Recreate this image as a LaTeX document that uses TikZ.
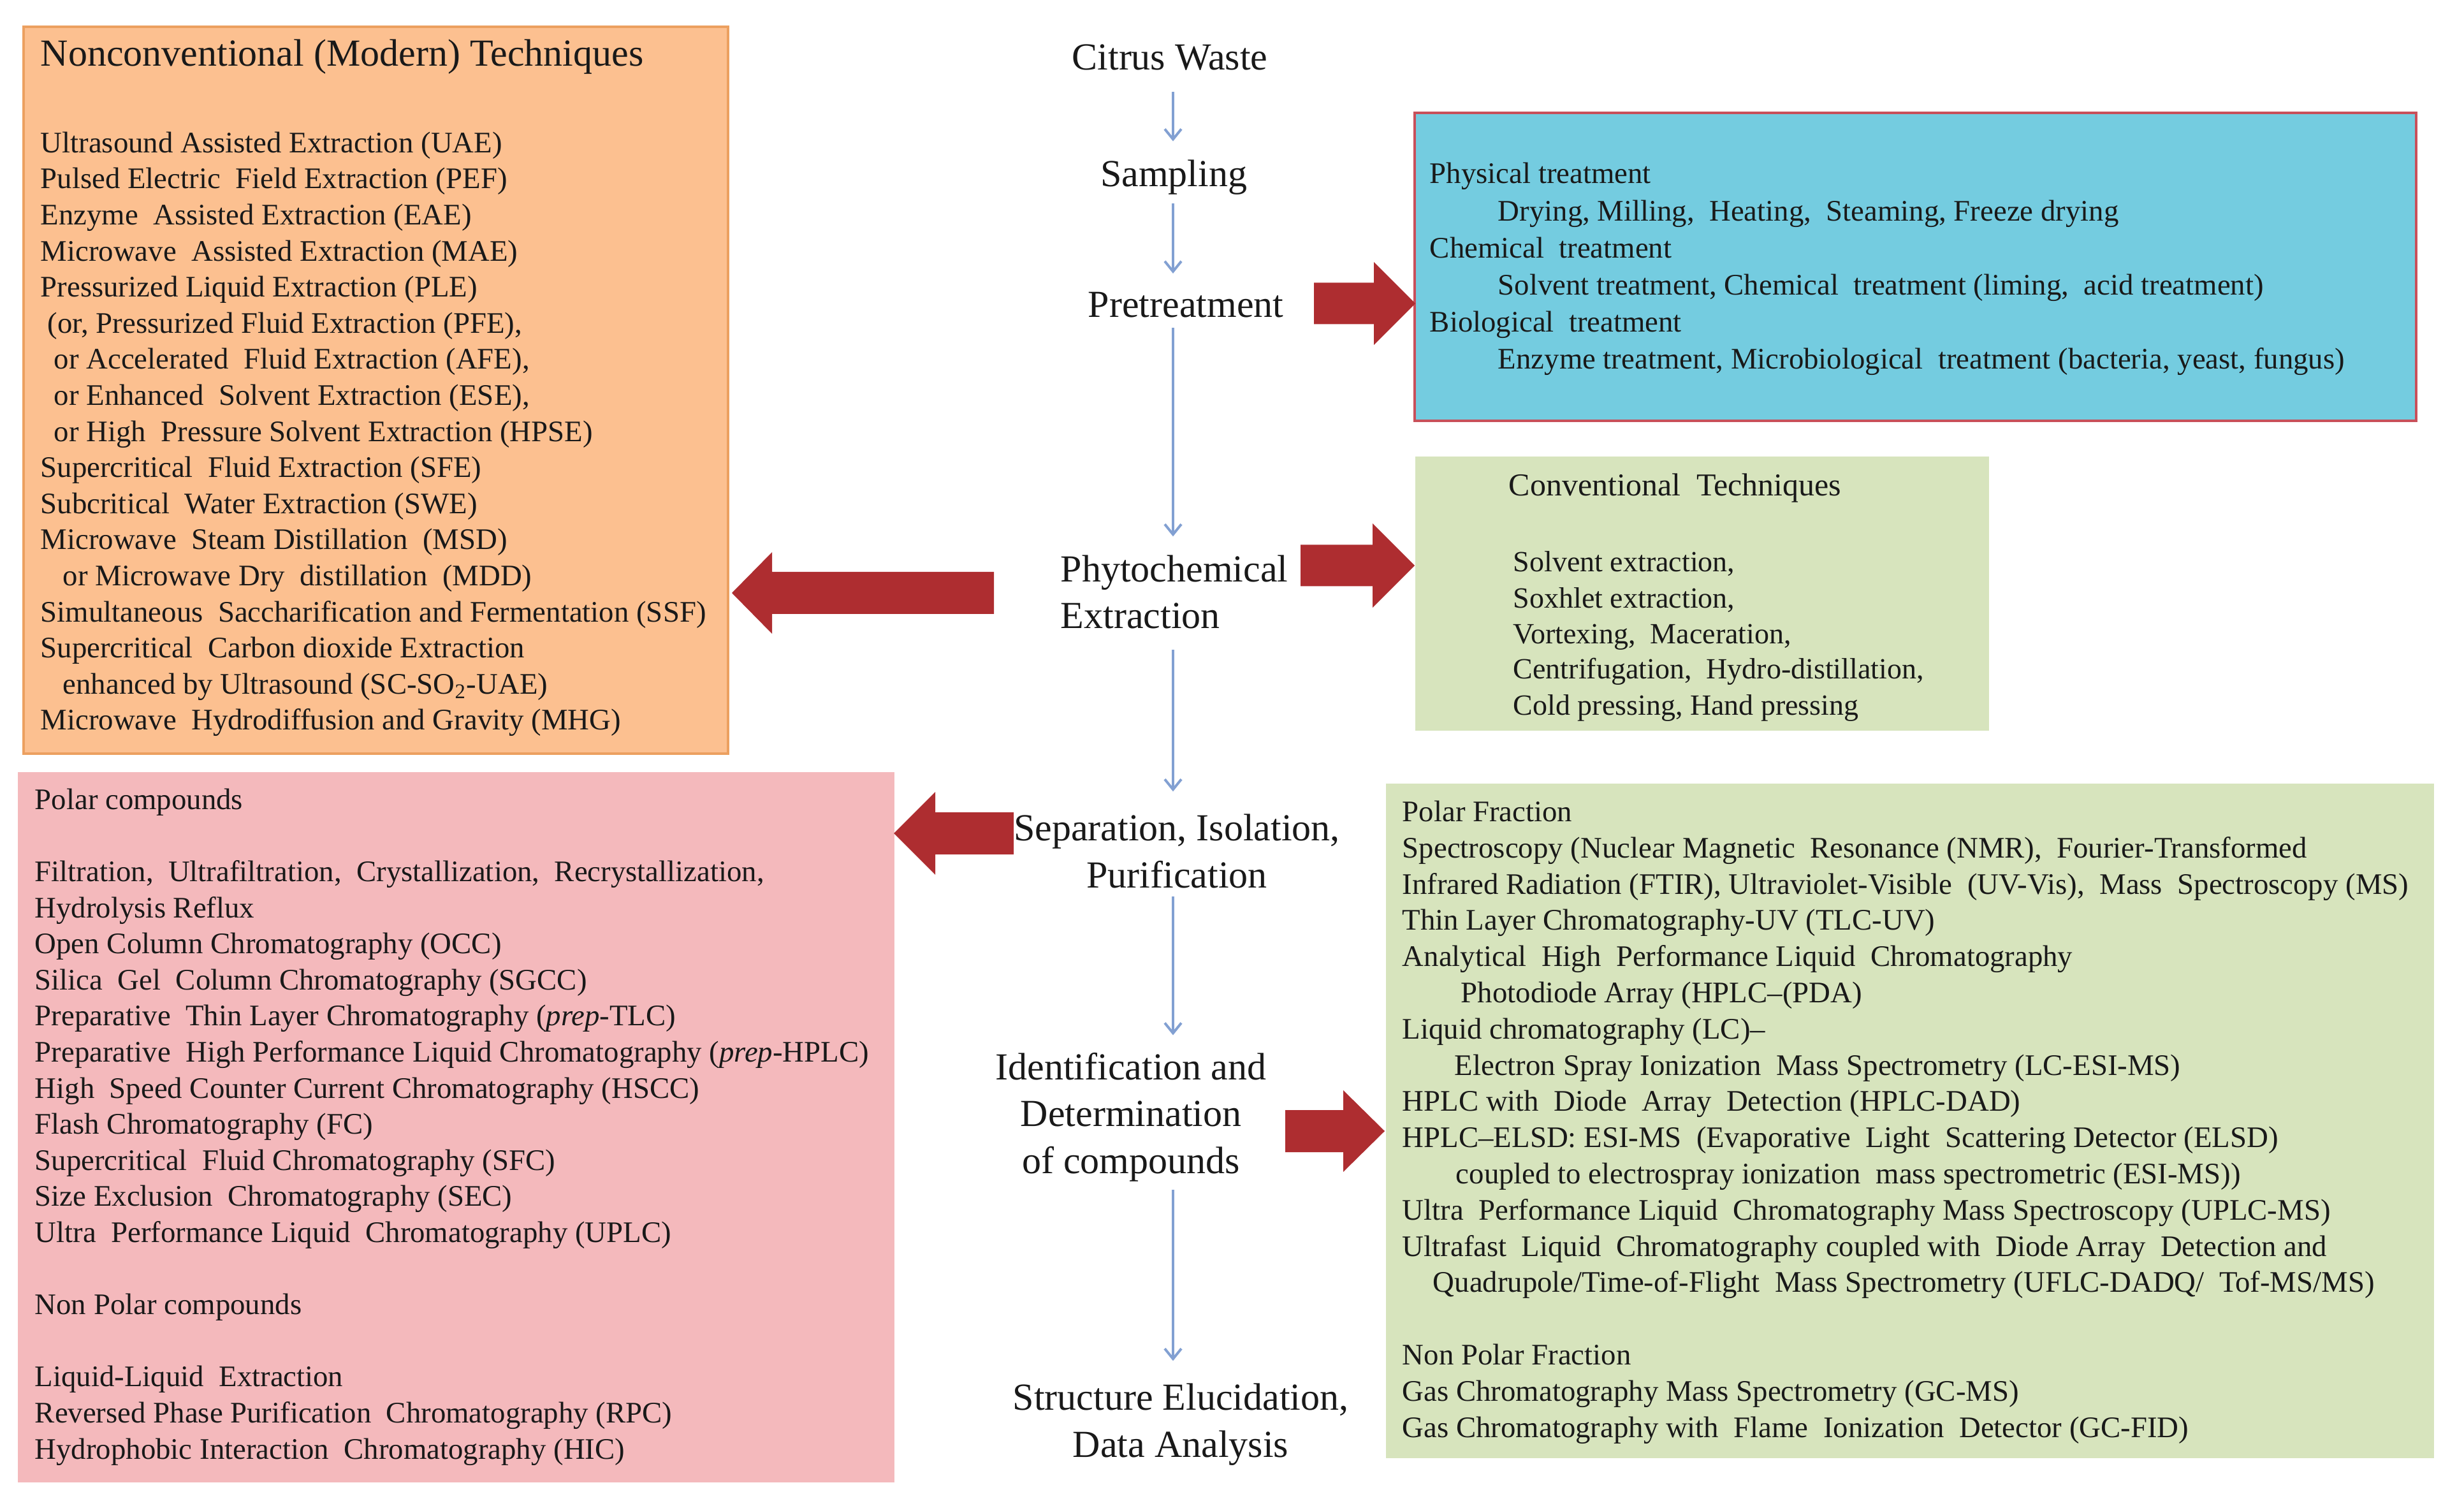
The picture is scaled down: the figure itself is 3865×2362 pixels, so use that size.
\documentclass[tikz,border=0pt]{standalone}
\usepackage{fontspec}
\setmainfont{Liberation Serif}
\usetikzlibrary{arrows.meta,fit}
\definecolor{orangefill}{RGB}{252,192,144}
\definecolor{orangeline}{RGB}{236,160,96}
\definecolor{bluefill}{RGB}{116,204,224}
\definecolor{blueline}{RGB}{200,80,90}
\definecolor{greenfill}{RGB}{215,228,189}
\definecolor{pinkfill}{RGB}{244,185,188}
\definecolor{redarrow}{RGB}{174,45,48}
\definecolor{flowblue}{RGB}{130,160,210}
\definecolor{ink}{RGB}{25,25,25}
\newcommand{\blockarrow}[6]{% tailx, basex, tipx, cy, halfshaft, halfhead
  \fill[redarrow] (#1,#4-#5) -- (#2,#4-#5) -- (#2,#4-#6) -- (#3,#4) -- (#2,#4+#6) -- (#2,#4+#5) -- (#1,#4+#5) -- cycle;}
\begin{document}
\begin{tikzpicture}[x=0.25pt,y=-0.25pt,
  panel/.style={inner sep=0pt, outer sep=0pt},
  listtext/.style={anchor=base west, inner sep=0pt, align=left, text=ink, font=\fontsize{11.7}{14.15}\selectfont},
  titletext/.style={anchor=base west, inner sep=0pt, text=ink},
  steptext/.style={anchor=base, inner sep=0pt, align=center, text=ink, font=\fontsize{15}{18.3}\selectfont},
  flow/.style={draw=flowblue, line width=1pt, -{Straight Barb[length=4pt,width=6.5pt]}}
]
\useasboundingbox (0,0) rectangle (3865,2362);

% panels
\node[panel, fit={(37,42) (1142,1182)}, fill=orangefill, draw=orangeline, line width=0.8pt] (orange) {};
\node[panel, fit={(2219,177) (3790,660)}, fill=bluefill, draw=blueline, line width=1.2pt] (blue) {};
\node[panel, fit={(2220,716) (3120,1146)}, fill=greenfill] (green1) {};
\node[panel, fit={(28,1211) (1403,2325)}, fill=pinkfill] (pink) {};
\node[panel, fit={(2174,1229) (3818,2287)}, fill=greenfill] (green2) {};

% block arrows
\blockarrow{2061}{2155}{2220}{476}{32.5}{65}
\blockarrow{2040}{2153}{2219}{887}{32.5}{66}
\blockarrow{1559}{1211}{1148}{930}{33}{64}
\blockarrow{1590}{1467}{1402}{1307}{33}{65}
\blockarrow{2016}{2107}{2172}{1774}{33}{64}

% centre steps (multi-line nodes: base = last line's baseline)
\node[steptext] (citrus) at (1835,110) {Citrus Waste};
\node[steptext] (sampling) at (1841,293) {Sampling};
\node[steptext] (pretreat) at (1860,498) {Pretreatment};
\node[steptext, anchor=base west, align=left] (phyto) at (1663,986) {Phytochemical\\Extraction};
\node[steptext] (separation) at (1846,1392) {Separation, Isolation,\\Purification};
\node[steptext] (ident) at (1774,1840) {Identification and\\Determination\\of compounds};
\node[steptext] (structure) at (1852,2285) {Structure Elucidation,\\Data Analysis};

\coordinate (spine) at (1840,0);
\draw[flow, shorten <=8pt, shorten >=7.25pt] (citrus.south -| spine) -- (sampling.north -| spine);
\draw[flow, shorten <=3pt, shorten >=7.25pt] (sampling.south -| spine) -- (pretreat.north -| spine);
\draw[flow, shorten <=3.75pt, shorten >=7.25pt] (pretreat.south -| spine) -- (phyto.north -| spine);
\draw[flow, shorten <=8pt, shorten >=8.75pt] (phyto.south -| spine) -- (separation.north -| spine);
\draw[flow, shorten <=3.25pt, shorten >=6.75pt] (separation.south -| spine) -- (ident.north -| spine);
\draw[flow, shorten <=3pt, shorten >=8.75pt] (ident.south -| spine) -- (structure.north -| spine);

% orange panel text
\node[titletext, font=\fontsize{15}{18}\selectfont] (orangetitle) at (63,104) {Nonconventional (Modern) Techniques};
\node[listtext] (orangelist) at (63,1145) {Ultrasound Assisted Extraction (UAE)\\
Pulsed Electric\ \ Field Extraction (PEF)\\
Enzyme\ \ Assisted Extraction (EAE)\\
Microwave\ \ Assisted Extraction (MAE)\\
Pressurized Liquid Extraction (PLE)\\
\hspace*{2.75pt}(or, Pressurized Fluid Extraction (PFE),\\
\hspace*{5.25pt}or Accelerated\ \ Fluid Extraction (AFE),\\
\hspace*{5.25pt}or Enhanced\ \ Solvent Extraction (ESE),\\
\hspace*{5.25pt}or High\ \ Pressure Solvent Extraction (HPSE)\\
Supercritical\ \ Fluid Extraction (SFE)\\
Subcritical\ \ Water Extraction (SWE)\\
Microwave\ \ Steam Distillation\ \ (MSD)\\
\hspace*{8.75pt}or Microwave Dry\ \ distillation\ \ (MDD)\\
Simultaneous\ \ Saccharification and Fermentation (SSF)\\
Supercritical\ \ Carbon dioxide Extraction\\
\hspace*{8.75pt}enhanced by Ultrasound (SC-SO\textsubscript{2}-UAE)\\
Microwave\ \ Hydrodiffusion and Gravity (MHG)};

% blue panel text
\node[listtext, font=\fontsize{11.7}{14.55}\selectfont] (bluelist) at (2242,579) {Physical treatment\\
\hspace*{26.75pt}Drying, Milling,\ \ Heating,\ \ Steaming, Freeze drying\\
Chemical\ \ treatment\\
\hspace*{26.75pt}Solvent treatment, Chemical\ \ treatment (liming,\ \ acid treatment)\\
Biological\ \ treatment\\
\hspace*{26.75pt}Enzyme treatment, Microbiological\ \ treatment (bacteria, yeast, fungus)};

% green panel 1 text
\node[titletext, font=\fontsize{12.5}{15}\selectfont] (green1title) at (2366,778) {Conventional\ \ Techniques};
\node[listtext, font=\fontsize{11.5}{14}\selectfont] (green1list) at (2373,1121) {Solvent extraction,\\
Soxhlet extraction,\\
Vortexing,\ \ Maceration,\\
Centrifugation,\ \ Hydro-distillation,\\
Cold pressing, Hand pressing};

% pink panel text
\node[listtext] (pinklist) at (54,2288) {Polar compounds\\
~\\
Filtration,\ \ Ultrafiltration,\ \ Crystallization,\ \ Recrystallization,\\
Hydrolysis Reflux\\
Open Column Chromatography (OCC)\\
Silica\ \ Gel\ \ Column Chromatography (SGCC)\\
Preparative\ \ Thin Layer Chromatography (\textit{prep}-TLC)\\
Preparative\ \ High Performance Liquid Chromatography (\textit{prep}-HPLC)\\
High\ \ Speed Counter Current Chromatography (HSCC)\\
Flash Chromatography (FC)\\
Supercritical\ \ Fluid Chromatography (SFC)\\
Size Exclusion\ \ Chromatography (SEC)\\
Ultra\ \ Performance Liquid\ \ Chromatography (UPLC)\\
~\\
Non Polar compounds\\
~\\
Liquid-Liquid\ \ Extraction\\
Reversed Phase Purification\ \ Chromatography (RPC)\\
Hydrophobic Interaction\ \ Chromatography (HIC)};

% green panel 2 text
\node[listtext, font=\fontsize{11.7}{14.2}\selectfont] (green2list) at (2199,2254) {Polar Fraction\\
Spectroscopy (Nuclear Magnetic\ \ Resonance (NMR),\ \ Fourier-Transformed\\
Infrared Radiation (FTIR), Ultraviolet-Visible\ \ (UV-Vis),\ \ Mass\ \ Spectroscopy (MS)\\
Thin Layer Chromatography-UV (TLC-UV)\\
Analytical\ \ High\ \ Performance Liquid\ \ Chromatography\\
\hspace*{23pt}Photodiode Array (HPLC--(PDA)\\
Liquid chromatography (LC)--\\
\hspace*{20.5pt}Electron Spray Ionization\ \ Mass Spectrometry (LC-ESI-MS)\\
HPLC with\ \ Diode\ \ Array\ \ Detection (HPLC-DAD)\\
HPLC--ELSD: ESI-MS\ \ (Evaporative\ \ Light\ \ Scattering Detector (ELSD)\\
\hspace*{21pt}coupled to electrospray ionization\ \ mass spectrometric (ESI-MS))\\
Ultra\ \ Performance Liquid\ \ Chromatography Mass Spectroscopy (UPLC-MS)\\
Ultrafast\ \ Liquid\ \ Chromatography coupled with\ \ Diode Array\ \ Detection and\\
\hspace*{12pt}Quadrupole/Time-of-Flight\ \ Mass Spectrometry (UFLC-DADQ/\ \ Tof-MS/MS)\\
~\\
Non Polar Fraction\\
Gas Chromatography Mass Spectrometry (GC-MS)\\
Gas Chromatography with\ \ Flame\ \ Ionization\ \ Detector (GC-FID)};
\end{tikzpicture}
\end{document}
